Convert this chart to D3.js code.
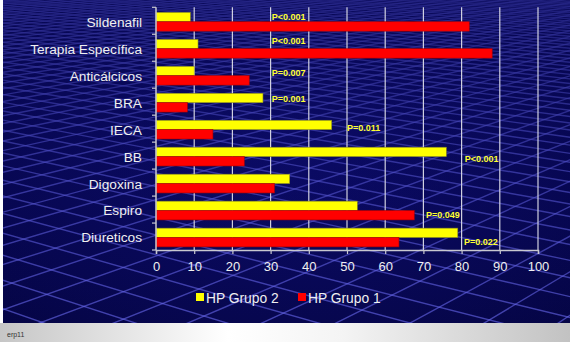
<!DOCTYPE html>
<html>
<head>
<meta charset="utf-8">
<script src="https://d3js.org/d3.v7.min.js"></script>
<style>
  body { margin:0; padding:0; background:#ffffff; }
  svg { display:block; font-family:"Liberation Sans", Arial, sans-serif; }
  .cat { fill:#f0f0f0; font-size:13.7px; }
  .tick text { fill:#f0f0f0; font-size:13px; }
  .pval { fill:#ffff33; font-size:9px; font-weight:bold; }
  .legend text { fill:#f0f0f0; font-size:13.8px; }
</style>
</head>
<body>
<svg id="chart"></svg>
<script>
// data
var categories = ["Sildenafil", "Terapia Específica", "Anticálcicos", "BRA", "IECA",
                  "BB", "Digoxina", "Espiro", "Diureticos"];
var grupo2 = [9, 11, 10, 28, 46, 76, 35, 52.7, 79];
var grupo1 = [82, 88, 24.4, 8.2, 14.9, 23.1, 31, 67.6, 63.6];
var pValues = ["P<0.001", "P<0.001", "P=0.007", "P=0.001", "P=0.011",
               "P<0.001", "", "P=0.049", "P=0.022"];
var xTicks = [0, 10, 20, 30, 40, 50, 60, 70, 80, 90, 100];
var seriesNames = ["HP Grupo 2", "HP Grupo 1"];
var seriesColors = ["#ffff00", "#ff0000"];

var screen = {width:570, height:342}
var margins = {left:156, right:32, top:7.3, bottom:92}
var graph = {
    width: screen.width - margins.left - margins.right,
    height: screen.height - margins.top - margins.bottom
}

var svg = d3.select("#chart")
    .attr("width", screen.width)
    .attr("height", screen.height)

// background panel with a perspective floor grid
var drawBackground = function()
{
    var defs = svg.append("defs")
    defs.append("clipPath").attr("id", "panelClip")
        .append("rect").attr("x", 3).attr("y", 0).attr("width", 567).attr("height", 323)

    var grad = defs.append("radialGradient").attr("id", "vign")
        .attr("cx", "50%").attr("cy", "45%").attr("r", "75%")
    grad.append("stop").attr("offset", "0%").attr("stop-color", "#0c0c6a")
    grad.append("stop").attr("offset", "100%").attr("stop-color", "#050545")

    var fade = defs.append("linearGradient").attr("id", "fade")
        .attr("x1", "0%").attr("x2", "0%").attr("y1", "0%").attr("y2", "100%")
    fade.append("stop").attr("offset", "0%").attr("stop-color", "#08085a").attr("stop-opacity", 0.65)
    fade.append("stop").attr("offset", "55%").attr("stop-color", "#08085a").attr("stop-opacity", 0.25)
    fade.append("stop").attr("offset", "100%").attr("stop-color", "#08085a").attr("stop-opacity", 0)

    var gray = defs.append("linearGradient").attr("id", "strip")
        .attr("x1", "0%").attr("x2", "100%")
    gray.append("stop").attr("offset", "0%").attr("stop-color", "#c6c6c6")
    gray.append("stop").attr("offset", "40%").attr("stop-color", "#ffffff")
    gray.append("stop").attr("offset", "60%").attr("stop-color", "#f4f4f4")
    gray.append("stop").attr("offset", "100%").attr("stop-color", "#c2c2c2")

    svg.append("rect").attr("x", 3).attr("y", 0).attr("width", 567).attr("height", 323)
        .attr("fill", "url(#vign)")

    var bg = svg.append("g").attr("clip-path", "url(#panelClip)")
    var hy = -120, cx = 250, camH = 1, f = (322 - hy) / 0.367
    var project = function(X, Z) { return [cx + f * X / Z, hy + f * camH / Z] }
    var theta = 51 * Math.PI / 180
    var s = 0.13
    var dirs = [[Math.cos(theta), Math.sin(theta)], [-Math.sin(theta), Math.cos(theta)]]
    dirs.forEach(function(d) {
        var n = [-d[1], d[0]]
        for (var k = -300; k <= 300; k++) {
            var p0 = [n[0] * k * s, n[1] * k * s]
            var t1 = (2.4 - p0[1]) / d[1], t2 = (40 - p0[1]) / d[1]
            var a = project(p0[0] + d[0] * t1, 2.4)
            var b = project(p0[0] + d[0] * t2, 40)
            if (Math.max(a[0], b[0]) < -50 || Math.min(a[0], b[0]) > 620) continue
            bg.append("line")
                .attr("x1", a[0]).attr("y1", a[1]).attr("x2", b[0]).attr("y2", b[1])
                .attr("stroke", "#6b6bf0").attr("stroke-opacity", 0.6)
                .attr("stroke-width", 1.4)
        }
    })
    bg.append("rect").attr("x", 3).attr("y", 0).attr("width", 567).attr("height", 323)
        .attr("fill", "url(#fade)")

    svg.append("rect").attr("x", 0).attr("y", 323).attr("width", 570).attr("height", 19)
        .attr("fill", "url(#strip)")
    svg.append("text").text("erp11")
        .attr("x", 7).attr("y", 337)
        .attr("fill", "#333333").attr("font-size", "7px")
}

var xScale = d3.scaleLinear()
    .domain([0, 100])
    .range([0, graph.width])

var yScale = d3.scaleBand()
    .domain(categories)
    .range([0, graph.height])
    .paddingInner(0.305)
    .paddingOuter(0.152)
    .align(0.62)

var subScale = d3.scaleBand()
    .domain(seriesNames)
    .range([0, yScale.bandwidth()])

var makeTranslateString = function(x, y)
{
    return "translate(" + x + "," + y + ")";
}

var drawGrid = function()
{
    var grid = svg.append("g").attr("transform", makeTranslateString(margins.left, margins.top))
    grid.selectAll("line")
        .data(xTicks.slice(1))
        .enter()
        .append("line")
        .attr("x1", function(d) { return xScale(d) })
        .attr("x2", function(d) { return xScale(d) })
        .attr("y1", 0)
        .attr("y2", graph.height)
        .attr("stroke", "#d0d0e0")
        .attr("stroke-width", 1.2)
}

var drawBars = function()
{
    var plot = svg.append("g").attr("transform", makeTranslateString(margins.left, margins.top))
    var all = [grupo2, grupo1]
    all.forEach(function(values, si) {
        plot.selectAll(".bar" + si)
            .data(values)
            .enter()
            .append("rect")
            .attr("class", "bar" + si)
            .attr("x", xScale(0))
            .attr("y", function(d, i) { return yScale(categories[i]) + subScale(seriesNames[si]) })
            .attr("width", function(d) { return xScale(d) - xScale(0) })
            .attr("height", subScale.bandwidth())
            .attr("fill", seriesColors[si])
            .attr("stroke", si == 0 ? "#8a8a20" : "#b00000")
            .attr("stroke-width", 0.6)
    })
}

// where each p label sits: x in axis units, vertical as share of a category step
var pLabelX = [30.3, 30.3, 30.3, 30.3, 50, 80.8, 0, 70.7, 80.6]
var pLabelRow = [0.34, 0.25, 0.43, 0.40, 0.45, 0.60, 0, 0.68, 0.68]

var drawPValues = function()
{
    var step = yScale.step()
    var labels = svg.append("g").attr("transform", makeTranslateString(margins.left, margins.top))
    labels.selectAll("text")
        .data(pValues)
        .enter()
        .append("text")
        .classed("pval", true)
        .text(function(d) { return d })
        .attr("x", function(d, i) { return xScale(pLabelX[i]) })
        .attr("y", function(d, i) { return step * (i + pLabelRow[i]) })
        .attr("dy", "0.36em")
}

var drawAxes = function()
{
    var xAxis = d3.axisBottom(xScale)
        .tickValues(xTicks)
        .tickSize(4)
        .tickPadding(8)
    var ax = svg.append("g")
        .attr("transform", makeTranslateString(margins.left, margins.top + graph.height))
        .call(xAxis)
    ax.attr("font-family", null).attr("font-size", null)
    ax.select(".domain").attr("stroke", "#c8c8d0").attr("stroke-width", 1.5)
    ax.selectAll(".tick line").attr("stroke", "#c8c8d0").attr("stroke-width", 1.2)

    // y axis: line with ticks at category boundaries
    var yAx = svg.append("g").attr("transform", makeTranslateString(margins.left, margins.top))
    yAx.append("line")
        .attr("x1", 0).attr("x2", 0).attr("y1", 0).attr("y2", graph.height)
        .attr("stroke", "#c8c8d0").attr("stroke-width", 1.5)
    yAx.selectAll(".ytick")
        .data(d3.range(categories.length + 1))
        .enter()
        .append("line")
        .attr("x1", -4).attr("x2", 0)
        .attr("y1", function(i) { return i * yScale.step() })
        .attr("y2", function(i) { return i * yScale.step() })
        .attr("stroke", "#c8c8d0").attr("stroke-width", 1.2)

    yAx.selectAll(".cat")
        .data(categories)
        .enter()
        .append("text")
        .classed("cat", true)
        .text(function(d) { return d })
        .attr("text-anchor", "end")
        .attr("x", -14)
        .attr("y", function(d) { return yScale(d) + yScale.bandwidth() / 2 })
        .attr("dy", "0.36em")
}

var drawLegend = function()
{
    var legend = svg.append("g").classed("legend", true)
        .attr("transform", makeTranslateString(196, 293))
    var offsets = [0, 102]
    seriesNames.forEach(function(name, i) {
        legend.append("rect")
            .attr("x", offsets[i]).attr("y", 0)
            .attr("width", 8).attr("height", 8)
            .attr("fill", seriesColors[i])
        legend.append("text")
            .text(name)
            .attr("x", offsets[i] + 10)
            .attr("y", 9.5)
    })
}

drawBackground()
drawGrid()
drawBars()
drawPValues()
drawAxes()
drawLegend()
</script>
</body>
</html>
